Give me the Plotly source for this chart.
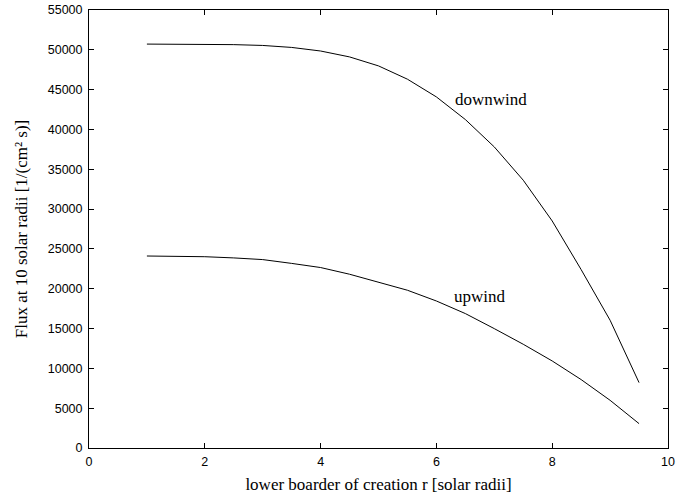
import plotly.graph_objects as go

r = [1.0, 1.5, 2.0, 2.5, 3.0, 3.5, 4.0, 4.5, 5.0, 5.5, 6.0, 6.5, 7.0, 7.5, 8.0, 8.5, 9.0, 9.5]
downwind = [50720, 50720, 50700, 50650, 50550, 50300, 49850, 49110, 47980, 46310,
            44085, 41245, 37806, 33624, 28510, 22400, 16040, 8210]
upwind = [24110, 24100, 24020, 23870, 23660, 23180, 22660, 21820, 20770, 19810,
          18460, 16880, 14990, 13025, 10930, 8590, 5990, 3060]

x_ticks = [0, 2, 4, 6, 8, 10]
y_ticks = list(range(0, 55001, 5000))

serif = "Liberation Serif, Times New Roman, serif"
sans = "Liberation Sans, Arial, sans-serif"

fig = go.Figure()
fig.add_trace(go.Scatter(x=r, y=downwind, mode="lines", line=dict(color="black", width=1),
                         name="downwind", showlegend=False))
fig.add_trace(go.Scatter(x=r, y=upwind, mode="lines", line=dict(color="black", width=1),
                         name="upwind", showlegend=False))

fig.add_annotation(x=6.95, y=43700, text="downwind", showarrow=False,
                   font=dict(family=serif, size=17, color="black"))
fig.add_annotation(x=6.76, y=19000, text="upwind", showarrow=False,
                   font=dict(family=serif, size=17, color="black"))

axis_common = dict(showline=True, linecolor="black", linewidth=1, mirror="allticks",
                   ticks="inside", ticklen=5, tickcolor="black", showgrid=False,
                   zeroline=False, automargin=False, ticklabeloverflow="allow",
                   tickfont=dict(family=sans, size=12.5, color="black"))

fig.update_xaxes(range=[0, 10], tickvals=x_ticks, ticktext=[str(v) for v in x_ticks],
                 ticklabelstandoff=2,
                 title=dict(text="lower boarder of creation r [solar radii]",
                            font=dict(family=serif, size=17, color="black"), standoff=10),
                 **axis_common)
fig.update_yaxes(range=[0, 55000], tickvals=y_ticks, ticktext=[str(v) for v in y_ticks],
                 ticklabelstandoff=3,
                 title=dict(text="Flux at 10 solar radii [1/(cm² s)]",
                            font=dict(family=serif, size=17, color="black"), standoff=15),
                 **axis_common)

fig.update_layout(width=692, height=497, margin=dict(l=89, r=24, t=10, b=49, pad=0),
                  plot_bgcolor="white", paper_bgcolor="white")

fig.write_html("out.html", config={"displayModeBar": False})

with open("out.html", "r", encoding="utf-8") as f:
    html = f.read()
html = html.replace("<body>", '<body style="margin:0;padding:0;">', 1)
with open("out.html", "w", encoding="utf-8") as f:
    f.write(html)
